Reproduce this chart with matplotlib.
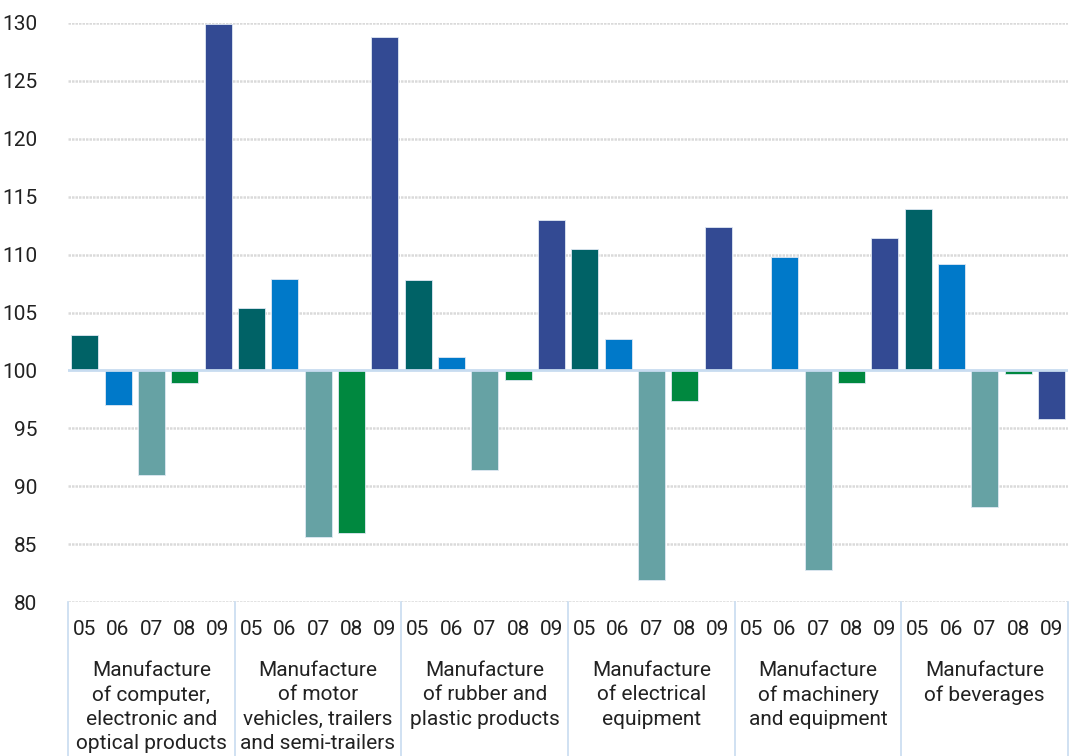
import matplotlib
matplotlib.use("Agg")
import matplotlib.pyplot as plt
from matplotlib.lines import Line2D

categories = [
    "Manufacture\nof computer,\nelectronic and\noptical products",
    "Manufacture\nof motor\nvehicles, trailers\nand semi-trailers",
    "Manufacture\nof rubber and\nplastic products",
    "Manufacture\nof electrical\nequipment",
    "Manufacture\nof machinery\nand equipment",
    "Manufacture\nof beverages",
]
years = ["05", "06", "07", "08", "09"]
values = {
    "05": [103.1, 105.4, 107.8, 110.5, 100.0, 113.9],
    "06": [97.0, 107.9, 101.2, 102.7, 109.8, 109.2],
    "07": [91.0, 85.6, 91.4, 81.9, 82.8, 88.2],
    "08": [98.9, 86.0, 99.2, 97.4, 98.9, 99.7],
    "09": [129.9, 128.8, 113.0, 112.4, 111.4, 95.8],
}
colors = {"05": "#006266", "06": "#0079c9", "07": "#66a2a4", "08": "#00883f", "09": "#334a93"}
yticks = [80, 85, 90, 95, 100, 105, 110, 115, 120, 125, 130]
baseline = 100

plt.rcParams['font.family'] = ['Roboto', 'DejaVu Sans']

fig = plt.figure(figsize=(10.7, 7.56), dpi=100)
ax = fig.add_axes([68/1070, 1-602/756, 1000/1070, 579/756])
ppu = 579/50.0  # pixels per unit

ny = len(years)
for gi in range(len(categories)):
    for yi, yr in enumerate(years):
        x = gi*ny + yi
        v = values[yr][gi]
        ax.bar(x, v - baseline, bottom=baseline, width=0.81, color=colors[yr],
               edgecolor="#dfe8f3", linewidth=0.6, zorder=3)

ax.set_xlim(-0.5, len(categories)*ny - 0.5)
ax.set_ylim(80, 130)
ax.set_yticks(yticks)
ax.set_yticklabels([str(t) for t in yticks], fontsize=15, color="#222222")
ax.tick_params(axis='y', length=0, pad=22)
ax.set_xticks([])
for s in ax.spines.values():
    s.set_visible(False)
for t in yticks:
    if t == baseline:
        continue
    ax.axhline(t, color="#dadada", linewidth=1.8, linestyle=(0, (1, 0.4)), zorder=1)
ax.axhline(baseline, color="#c8dcf0", linewidth=2.0, zorder=4)

# year labels and category labels below
for gi, cat in enumerate(categories):
    for yi, yr in enumerate(years):
        x = gi*ny + yi
        ax.text(x, 80 - (629-602)/ppu, yr, ha='center', va='center', fontsize=15, color="#222222")
    xc = gi*ny + (ny-1)/2
    ax.text(xc, 80 - (661-602)/ppu, cat, ha='center', va='top', fontsize=15,
            color="#222222", linespacing=1.35)

# separators
for gi in range(len(categories)+1):
    xs = gi*ny - 0.5
    line = Line2D([xs, xs], [80, 80 - 160/ppu], color="#c8dcf0", linewidth=1.2,
                  clip_on=False, zorder=2)
    ax.add_line(line)

fig.savefig("out.png", dpi=100)
